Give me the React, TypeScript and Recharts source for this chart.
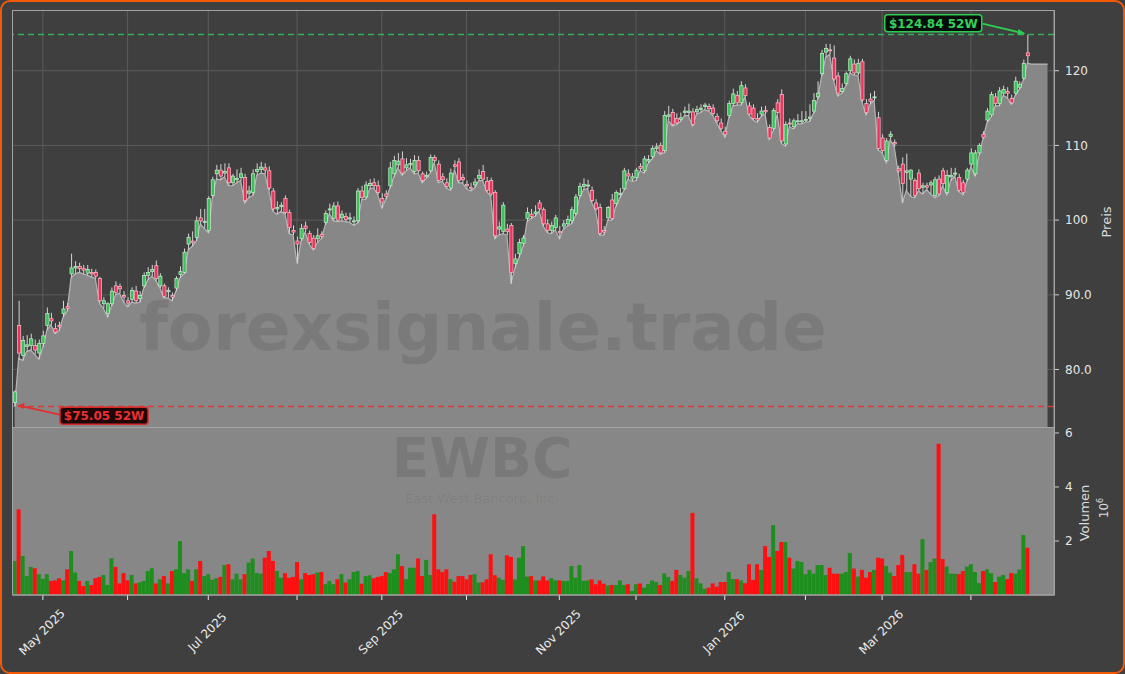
import React from 'react';
import {
  ComposedChart,
  Area,
  Bar,
  Cell,
  XAxis,
  YAxis,
  CartesianGrid,
  ReferenceLine,
  ReferenceDot,
} from 'recharts';

// daily candles (first session 2025-04-22)
const openP = [
  75.6, 85.9, 81.9, 83.1, 83.2, 83.2, 82.2, 83.5, 85.9, 86.8,
  85.5, 85.9, 87.5, 88.4, 92.8, 93.6, 93.8, 93.5, 92.9, 93.0,
  93.0, 92.2, 88.8, 87.5, 88.8, 91.2, 91.1, 89.9, 89.2, 89.4,
  90.5, 89.5, 91.2, 92.6, 93.1, 93.9, 91.2, 91.2, 90.4, 89.9,
  90.9, 92.7, 93.0, 96.8, 97.2, 97.7, 100.3, 99.7, 98.6, 103.3,
  106.2, 106.7, 106.3, 107.0, 105.0, 105.4, 105.7, 105.7, 103.6, 103.7,
  106.5, 106.8, 107.0, 106.6, 103.9, 101.5, 101.8, 102.9, 101.0, 98.6,
  97.2, 97.5, 99.2, 98.2, 97.6, 97.5, 98.1, 99.7, 101.4, 100.2,
  101.9, 100.3, 100.5, 100.2, 99.8, 99.9, 103.9, 103.1, 104.6, 105.0,
  104.6, 102.9, 103.5, 104.6, 106.2, 107.4, 108.2, 107.0, 107.4, 106.5,
  108.0, 106.2, 105.8, 106.6, 108.4, 107.5, 105.8, 105.0, 104.3, 107.4,
  107.8, 105.7, 104.8, 104.4, 104.7, 105.6, 106.5, 105.2, 105.3, 103.7,
  98.8, 98.5, 98.8, 99.3, 94.2, 95.5, 96.9, 100.2, 100.8, 100.9,
  102.3, 101.4, 99.5, 98.6, 99.0, 98.5, 99.2, 99.5, 99.9, 100.9,
  103.3, 104.5, 104.6, 104.0, 102.3, 101.7, 98.6, 100.3, 102.7, 102.2,
  103.4, 104.2, 106.2, 105.5, 105.7, 107.2, 106.6, 107.9, 108.5, 109.6,
  110.0, 109.3, 113.9, 114.4, 113.6, 113.5, 114.4, 114.4, 114.5, 114.5,
  114.8, 115.2, 115.2, 115.0, 113.9, 113.0, 111.9, 114.0, 115.6, 116.7,
  115.7, 117.7, 115.3, 115.0, 113.6, 114.2, 114.7, 112.4, 112.3, 115.7,
  116.8, 110.2, 113.0, 112.5, 113.2, 113.3, 113.4, 113.6, 114.6, 116.5,
  119.6, 122.5, 122.8, 121.7, 119.3, 117.2, 118.3, 120.0, 120.9, 119.7,
  121.2, 115.6, 116.2, 116.4, 113.7, 111.0, 108.0, 111.2, 110.4, 106.9,
  107.5, 106.4, 105.5, 105.3, 106.3, 104.4, 104.6, 104.7, 103.3, 105.5,
  106.6, 103.7, 105.8, 106.2, 105.7, 105.0, 105.5, 107.5, 106.2, 109.0,
  111.5, 113.4, 114.1, 116.5, 115.6, 117.0, 117.2, 116.3, 117.0, 117.8,
  119.0, 122.4,
];

const highP = [
  77.2, 89.2, 84.5, 84.6, 84.8, 84.0, 84.0, 85.2, 88.3, 87.6,
  86.2, 86.4, 89.2, 88.9, 95.5, 94.5, 94.3, 94.0, 94.0, 93.5,
  93.4, 92.4, 89.7, 89.0, 91.0, 91.8, 91.5, 90.5, 89.7, 91.0,
  91.2, 90.5, 93.0, 93.7, 94.0, 94.6, 92.9, 91.5, 91.0, 90.3,
  92.5, 93.8, 96.2, 98.2, 98.5, 100.5, 101.5, 101.5, 103.2, 105.8,
  107.4, 107.5, 107.6, 107.6, 106.2, 106.8, 107.0, 106.2, 104.6, 106.8,
  107.6, 107.8, 107.6, 107.2, 104.3, 102.5, 102.4, 103.3, 101.4, 99.3,
  97.8, 99.5, 99.8, 98.6, 98.0, 98.9, 98.5, 101.3, 102.2, 102.4,
  102.5, 101.3, 101.0, 101.0, 100.5, 104.3, 104.6, 105.2, 105.5, 105.6,
  105.3, 103.6, 104.0, 107.8, 108.6, 109.0, 109.2, 108.3, 108.2, 108.7,
  108.6, 106.5, 106.5, 108.8, 108.7, 108.0, 106.3, 105.6, 106.9, 108.0,
  108.3, 106.2, 105.3, 105.0, 105.6, 106.8, 107.4, 105.8, 105.7, 104.0,
  99.8, 102.4, 99.5, 99.6, 95.5, 97.5, 98.0, 101.7, 101.5, 102.0,
  102.7, 101.7, 100.1, 99.8, 100.7, 99.2, 100.0, 100.6, 101.8, 103.5,
  105.0, 105.6, 105.4, 104.5, 102.8, 102.2, 99.2, 101.9, 103.5, 104.0,
  104.3, 107.0, 106.8, 106.3, 107.0, 107.6, 108.6, 108.7, 110.0, 110.3,
  110.4, 114.6, 115.3, 114.9, 114.3, 114.4, 115.2, 115.6, 115.0, 115.3,
  115.5, 115.7, 115.6, 115.5, 114.3, 113.6, 112.5, 116.0, 117.6, 117.3,
  118.6, 118.2, 115.8, 115.5, 114.3, 115.2, 115.3, 112.8, 115.0, 116.2,
  117.5, 113.2, 113.6, 113.6, 114.2, 114.6, 114.6, 115.5, 117.0, 118.6,
  122.8, 123.6, 123.6, 123.4, 119.8, 118.3, 119.9, 122.0, 121.5, 121.6,
  121.6, 116.2, 117.0, 117.3, 114.5, 111.5, 111.0, 111.9, 110.8, 107.3,
  108.4, 108.9, 106.8, 105.6, 106.8, 105.0, 105.0, 105.3, 105.8, 106.0,
  107.0, 106.7, 107.0, 107.0, 106.2, 105.4, 107.0, 109.6, 109.4, 110.3,
  111.9, 115.0, 117.2, 117.0, 117.8, 118.0, 117.8, 116.8, 119.2, 118.6,
  121.5, 124.84,
];

const lowP = [
  75.05, 81.5, 81.2, 82.4, 82.6, 82.0, 81.4, 83.0, 85.3, 86.0,
  84.8, 85.2, 87.0, 87.8, 92.3, 92.8, 93.0, 92.8, 92.6, 92.4,
  92.2, 88.9, 88.2, 87.0, 88.5, 90.0, 90.2, 89.0, 88.4, 89.0,
  88.9, 89.0, 90.9, 92.0, 92.5, 91.9, 90.9, 89.6, 89.6, 89.2,
  90.5, 92.3, 92.8, 96.0, 96.5, 97.2, 99.5, 98.9, 98.3, 103.0,
  105.5, 105.4, 105.8, 104.6, 104.6, 105.0, 105.3, 102.3, 103.0, 103.3,
  106.0, 106.3, 106.2, 104.0, 101.2, 100.8, 101.2, 100.8, 98.2, 98.0,
  94.2, 97.2, 98.4, 96.8, 96.0, 97.0, 97.5, 99.4, 100.9, 99.9,
  99.8, 99.9, 99.8, 99.7, 99.3, 99.6, 102.7, 102.8, 104.2, 104.3,
  103.4, 101.6, 102.8, 104.3, 105.8, 107.0, 106.0, 106.6, 107.0, 106.2,
  106.3, 105.0, 105.6, 106.3, 107.7, 105.0, 105.2, 104.3, 104.0, 106.8,
  105.0, 105.0, 104.2, 103.9, 104.3, 105.3, 105.3, 103.8, 103.2, 97.5,
  98.0, 98.2, 98.0, 91.5, 93.6, 95.0, 96.5, 99.8, 100.2, 100.5,
  101.2, 99.2, 98.3, 98.2, 98.7, 97.5, 98.8, 99.2, 99.5, 100.6,
  103.0, 104.1, 104.2, 102.4, 101.3, 98.0, 98.0, 100.0, 100.0, 101.8,
  103.0, 104.0, 105.5, 105.2, 105.3, 106.6, 106.3, 107.6, 108.2, 109.3,
  108.8, 109.0, 113.4, 112.6, 112.8, 113.2, 114.0, 114.0, 112.6, 114.2,
  114.4, 114.8, 114.6, 114.0, 113.0, 112.0, 111.1, 113.7, 115.3, 115.4,
  115.4, 116.5, 114.0, 113.4, 113.1, 113.9, 114.2, 110.8, 112.0, 114.2,
  110.3, 109.9, 112.5, 112.2, 112.9, 112.9, 113.1, 113.2, 114.3, 116.2,
  119.3, 121.8, 122.2, 118.6, 116.6, 117.0, 118.0, 119.7, 119.4, 119.4,
  115.8, 114.1, 115.5, 116.0, 109.4, 109.0, 107.7, 110.8, 109.8, 106.3,
  102.3, 104.0, 103.2, 103.0, 103.9, 103.5, 104.1, 103.5, 103.0, 103.3,
  104.6, 103.4, 105.3, 105.9, 103.8, 103.4, 105.2, 107.2, 105.9, 108.7,
  110.9, 113.1, 113.8, 115.3, 115.3, 116.7, 116.4, 115.5, 116.7, 117.5,
  118.8, 121.0,
];

const closeP = [
  77.0, 82.2, 83.9, 83.3, 84.1, 82.6, 83.5, 84.5, 87.5, 86.5,
  85.0, 85.7, 88.1, 88.2, 93.6, 93.8, 93.5, 93.3, 93.4, 92.8,
  92.5, 89.2, 89.2, 88.8, 90.5, 90.3, 90.8, 89.7, 88.9, 90.6,
  89.2, 89.9, 92.6, 93.0, 93.4, 92.2, 92.5, 89.8, 90.6, 89.7,
  92.2, 93.1, 95.7, 97.7, 97.0, 99.9, 99.9, 99.8, 102.9, 105.4,
  106.7, 105.9, 106.5, 105.0, 105.9, 105.6, 106.2, 102.6, 103.9, 106.2,
  106.8, 107.1, 106.7, 104.3, 101.5, 101.7, 102.0, 101.0, 99.0, 98.4,
  96.8, 98.9, 98.9, 97.0, 96.2, 97.9, 97.8, 100.9, 101.5, 101.9,
  100.0, 100.8, 100.1, 100.3, 99.9, 103.9, 103.0, 104.7, 104.9, 104.6,
  103.7, 102.4, 103.2, 107.0, 108.0, 107.9, 106.3, 107.4, 107.6, 108.0,
  106.6, 105.3, 106.0, 108.4, 108.0, 105.3, 105.4, 104.5, 106.3, 107.2,
  105.3, 105.4, 104.6, 104.3, 105.1, 106.0, 105.5, 104.0, 103.5, 97.9,
  99.1, 102.0, 98.5, 93.0, 94.8, 97.0, 97.6, 101.0, 100.5, 101.1,
  101.5, 99.5, 98.6, 99.3, 100.3, 98.3, 99.5, 100.1, 101.4, 103.1,
  104.5, 104.8, 104.7, 102.6, 101.5, 98.2, 98.4, 101.7, 100.2, 103.7,
  103.6, 106.6, 105.9, 105.8, 106.7, 106.9, 108.2, 108.1, 109.6, 109.8,
  109.0, 114.0, 114.1, 112.8, 113.0, 113.7, 114.6, 114.6, 112.8, 114.8,
  115.0, 115.4, 114.9, 114.3, 113.3, 112.3, 111.5, 115.6, 116.9, 115.7,
  118.0, 116.7, 114.2, 113.6, 113.4, 114.6, 114.5, 111.0, 114.7, 114.4,
  110.6, 112.8, 112.9, 113.3, 113.3, 113.3, 113.5, 113.8, 116.0, 117.0,
  122.3, 123.0, 122.7, 118.9, 117.0, 117.6, 119.6, 121.6, 119.7, 121.0,
  116.1, 114.4, 115.9, 116.5, 109.6, 109.3, 110.6, 111.5, 110.2, 106.6,
  104.9, 106.6, 106.7, 103.3, 104.2, 104.6, 104.4, 105.0, 105.4, 103.5,
  104.9, 106.0, 106.0, 106.3, 104.0, 103.7, 106.7, 109.0, 109.0, 110.0,
  111.1, 114.6, 116.8, 115.6, 117.3, 117.5, 117.0, 115.7, 118.6, 118.2,
  121.0, 122.0,
];

// volume in millions
const volume = [
  1.26, 3.17, 1.44, 0.70, 1.04, 0.99, 0.77, 0.60, 0.77, 0.52,
  0.54, 0.62, 0.54, 0.95, 1.63, 0.83, 0.52, 0.33, 0.52, 0.37,
  0.62, 0.67, 0.74, 0.37, 1.36, 1.04, 0.43, 0.81, 0.54, 0.74,
  0.43, 0.47, 0.52, 0.89, 0.99, 0.43, 0.58, 0.70, 0.43, 0.89,
  0.95, 2.0, 0.81, 0.95, 0.52, 0.95, 1.26, 0.70, 0.77, 0.56,
  0.62, 0.67, 1.11, 1.14, 0.58, 0.79, 0.58, 0.77, 1.20, 1.35,
  0.81, 0.79, 1.38, 1.63, 1.26, 0.89, 0.64, 0.81, 0.64, 0.67,
  1.22, 0.58, 0.81, 0.74, 0.77, 0.83, 0.85, 0.40, 0.52, 0.40,
  0.58, 0.77, 0.46, 0.58, 0.85, 0.89, 0.42, 0.70, 0.73, 0.62,
  0.67, 0.70, 0.85, 0.81, 0.95, 1.51, 1.07, 0.59, 1.01, 1.01,
  1.35, 0.70, 1.30, 0.74, 2.99, 0.95, 0.85, 0.95, 0.59, 0.49,
  0.70, 0.70, 0.58, 0.74, 0.77, 0.46, 0.47, 0.58, 1.51, 0.73,
  0.64, 0.56, 1.47, 1.41, 0.58, 1.38, 1.81, 0.68, 0.70, 0.54,
  0.54, 0.69, 0.54, 0.62, 0.54, 0.54, 0.52, 0.52, 1.07, 0.64,
  1.11, 0.52, 0.54, 0.58, 0.40, 0.54, 0.42, 0.35, 0.37, 0.37,
  0.54, 0.37, 0.40, 0.15, 0.40, 0.43, 0.27, 0.40, 0.54, 0.48,
  0.37, 0.80, 0.67, 0.52, 0.93, 0.74, 0.64, 0.89, 3.04, 0.62,
  0.43, 0.23, 0.27, 0.43, 0.31, 0.48, 0.48, 0.85, 0.59, 0.59,
  0.54, 0.44, 1.14, 0.56, 1.14, 0.93, 1.81, 1.41, 2.59, 1.63,
  1.96, 1.96, 1.38, 0.98, 1.26, 1.22, 0.77, 0.93, 0.79, 1.11,
  1.11, 0.74, 1.01, 0.79, 0.79, 0.79, 0.85, 1.56, 0.98, 0.68,
  0.93, 0.64, 0.85, 0.93, 1.38, 1.35, 1.07, 0.83, 0.70, 1.11,
  1.48, 0.85, 0.85, 1.14, 0.79, 2.07, 0.93, 1.22, 1.35, 5.6,
  1.33, 1.05, 0.79, 0.79, 0.77, 0.89, 1.05, 1.14, 0.85, 0.44,
  0.89, 0.95, 0.81, 0.48, 0.68, 0.74, 0.59, 0.81, 0.79, 0.94,
  2.22, 1.75,
];

// grey fill keeps running flat for a few sessions after the last candle
const tailArea = [120.9, 120.9, 120.9, 120.9, 120.9];

const holidays = [
  '2025-05-26', '2025-06-19', '2025-07-04', '2025-09-01', '2025-11-27',
  '2025-12-25', '2026-01-01', '2026-01-19', '2026-02-16', '2026-04-03',
];
const monthNames = ['Jan', 'Feb', 'Mar', 'Apr', 'May', 'Jun', 'Jul', 'Aug', 'Sep', 'Oct', 'Nov', 'Dec'];

const priceTicks = [80, 90, 100, 110, 120];
const priceTickLabels = ['80.0', '90.0', '100', '110', '120'];
const volTicks = [2, 4, 6];
const volTickLabels = ['2', '4', '6'];

const FONT = '"DejaVu Sans", "Liberation Sans", sans-serif';
const X_DOMAIN: [number, number] = [-0.4, 257.6];

function tradingDays(start: string, n: number) {
  const out: Date[] = [];
  const d = new Date(start + 'T00:00:00Z');
  while (out.length < n) {
    const wd = d.getUTCDay();
    const iso = d.toISOString().slice(0, 10);
    if (wd !== 0 && wd !== 6 && !holidays.includes(iso)) out.push(new Date(d.getTime()));
    d.setUTCDate(d.getUTCDate() + 1);
  }
  return out;
}

const N = openP.length;
const dates = tradingDays('2025-04-22', N);

const monthTicks: number[] = [];
const monthLabel: Record<number, string> = {};
dates.forEach((d, i) => {
  if (i === 0) return;
  const m = d.getUTCMonth();
  if (m !== dates[i - 1].getUTCMonth()) {
    monthTicks.push(i);
    if (m % 2 === 0) monthLabel[i] = `${monthNames[m]} ${d.getUTCFullYear()}`;
  }
});

const rows: any[] = openP.map((o, i) => ({
  i,
  open: o,
  high: highP[i],
  low: lowP[i],
  close: closeP[i],
  area: lowP[i],
  vol: volume[i],
}));
tailArea.forEach((v, k) => rows.push({ i: N + k, area: v }));

const maxHigh = Math.max(...highP);
const maxIdx = highP.indexOf(maxHigh);
const minLow = Math.min(...lowP);
const minIdx = lowP.indexOf(minLow);

const Candle = (props: any) => {
  const { x, y, width, height, payload } = props;
  if (!payload || payload.open == null || height == null) return null;
  const { open, close, high, low } = payload;
  const top = Math.min(y, y + height);
  const h = Math.abs(height);
  const ppu = high > low ? h / (high - low) : 0;
  const cx = x + width / 2;
  const yO = top + (high - open) * ppu;
  const yC = top + (high - close) * ppu;
  const up = close >= open;
  const bTop = Math.min(yO, yC);
  const bH = Math.max(1, Math.abs(yO - yC));
  return (
    <g>
      <line x1={cx} x2={cx} y1={top} y2={top + h} stroke="#d4d4d4" strokeWidth={1} />
      <rect
        x={cx - 1.6}
        y={bTop}
        width={3.2}
        height={bH}
        fill={up ? '#3fbf5c' : '#e5365d'}
        stroke={up ? '#c6f0cf' : '#ffbfcc'}
        strokeWidth={0.7}
      />
    </g>
  );
};

const HighNote = (props: any) => {
  const { cx, cy } = props;
  const bx = cx - 142.6;
  const by = cy - 19.8;
  return (
    <g>
      <line x1={cx - 45} y1={cy - 11} x2={cx - 7} y2={cy - 2} stroke="#2ecc52" strokeWidth={1.8} />
      <polygon points={`${cx - 2},${cy - 1} ${cx - 9},${cy - 5.5} ${cx - 10},${cy + 0.5}`} fill="#2ecc52" />
      <rect x={bx} y={by} width={97} height={17} rx={3} fill="#060c07" stroke="#2ecc52" strokeWidth={1.5} />
      <text x={bx + 48.5} y={by + 13} textAnchor="middle" fill="#34d05a" fontSize={12} fontWeight="bold" fontFamily={FONT}>
        {`$${maxHigh.toFixed(2)} 52W`}
      </text>
    </g>
  );
};

const LowNote = (props: any) => {
  const { cx, cy } = props;
  const bx = cx + 45.4;
  const by = cy + 0.7;
  return (
    <g>
      <line x1={cx + 46} y1={cy + 8.5} x2={cx + 8} y2={cy - 0.2} stroke="#e03030" strokeWidth={1.8} />
      <polygon points={`${cx + 3},${cy - 1} ${cx + 10},${cy - 3.6} ${cx + 9},${cy + 2.6}`} fill="#e03030" />
      <rect x={bx} y={by} width={88} height={17} rx={3} fill="#1e0606" stroke="#d42a2a" strokeWidth={1.5} />
      <text x={bx + 44} y={by + 13} textAnchor="middle" fill="#e83232" fontSize={12} fontWeight="bold" fontFamily={FONT}>
        {`$${minLow.toFixed(2)} 52W`}
      </text>
    </g>
  );
};

const MonthTick = (props: any) => {
  const { x, payload } = props;
  const lab = monthLabel[payload.value];
  if (!lab) return null;
  const cy = 632;
  return (
    <text
      x={x - 1}
      y={cy}
      dy="0.35em"
      textAnchor="middle"
      transform={`rotate(-45 ${x - 1} ${cy})`}
      fill="#ececec"
      fontSize={12}
      fontFamily={FONT}
    >
      {lab}
    </text>
  );
};

const axisTick = { fill: '#e6e6e6', fontSize: 12, fontFamily: FONT };

export default function App() {
  return (
    <div
      style={{
        position: 'absolute',
        left: 0,
        top: 0,
        width: 1125,
        height: 674,
        background: '#3f3f3f',
        overflow: 'hidden',
        fontFamily: FONT,
      }}
    >
      <div style={{ position: 'absolute', left: 0, top: 0 }}>
        <ComposedChart width={1125} height={440} data={rows} margin={{ top: 11, right: 11, bottom: 13, left: 13 }}>
          <CartesianGrid
            stroke="#5c5c5c"
            fill="#3f3f3f"
            verticalValues={monthTicks}
            horizontalValues={priceTicks}
          />
          <XAxis type="number" dataKey="i" domain={X_DOMAIN} ticks={monthTicks} hide allowDataOverflow />
          <YAxis
            orientation="right"
            domain={[72.3, 128]}
            ticks={priceTicks}
            width={60}
            allowDataOverflow
            tickFormatter={(v: number) => priceTickLabels[priceTicks.indexOf(v)]}
            tick={axisTick}
            tickSize={5}
            tickMargin={6}
            tickLine={{ stroke: '#cfcfcf' }}
            axisLine={{ stroke: '#9a9a9a' }}
          />
          <Area
            dataKey="area"
            type="linear"
            baseValue="dataMin"
            fill="#878787"
            fillOpacity={1}
            stroke="#b6b6b6"
            strokeWidth={1.2}
            dot={false}
            activeDot={false}
            isAnimationActive={false}
          />
          <ReferenceLine y={maxHigh} stroke="#34b05c" strokeDasharray="6 4" strokeWidth={1.5} />
          <ReferenceLine y={minLow} stroke="#d83a3a" strokeDasharray="6 4" strokeWidth={1.5} />
          <Bar
            dataKey={(d: any) => (d.open == null ? null : [d.low, d.high])}
            barSize={3}
            shape={Candle}
            isAnimationActive={false}
          />
          <ReferenceDot x={maxIdx} y={maxHigh} r={3} shape={HighNote} />
          <ReferenceDot x={minIdx} y={minLow} r={3} shape={LowNote} />
        </ComposedChart>
      </div>

      <div style={{ position: 'absolute', left: 0, top: 0 }}>
        <ComposedChart width={1125} height={674} data={rows} margin={{ top: 427, right: 11, bottom: 0, left: 13 }}>
          <CartesianGrid fill="#878787" horizontal={false} vertical={false} />
          <XAxis
            type="number"
            dataKey="i"
            domain={X_DOMAIN}
            ticks={monthTicks}
            interval={0}
            allowDataOverflow
            height={79}
            tick={<MonthTick />}
            tickSize={5}
            tickLine={{ stroke: '#e6e6e6' }}
            axisLine={{ stroke: '#a6a6a6' }}
          />
          <YAxis
            orientation="right"
            domain={[0, 6.22]}
            ticks={volTicks}
            width={60}
            allowDataOverflow
            tickFormatter={(v: number) => volTickLabels[volTicks.indexOf(v)]}
            tick={axisTick}
            tickSize={5}
            tickMargin={6}
            tickLine={{ stroke: '#cfcfcf' }}
            axisLine={{ stroke: '#9a9a9a' }}
          />
          <Bar dataKey="vol" barSize={4} isAnimationActive={false}>
            {rows.map((r, k) => (
              <Cell key={k} fill={r.close >= r.open ? '#1e8e1e' : '#ff0f0f'} />
            ))}
          </Bar>
        </ComposedChart>
      </div>

      <svg
        width={1125}
        height={674}
        style={{ position: 'absolute', left: 0, top: 0, pointerEvents: 'none' }}
      >
        <text x={483} y={350} textAnchor="middle" fontSize={66} fontWeight="bold" fontFamily={FONT} fill="rgba(0,0,0,0.09)">
          forexsignale.trade
        </text>
        <text x={482} y={477} textAnchor="middle" fontSize={55} fontWeight="bold" fontFamily={FONT} fill="rgba(0,0,0,0.1)">
          EWBC
        </text>
        <text x={482} y={503} textAnchor="middle" fontSize={13} fontFamily={FONT} fill="rgba(0,0,0,0.07)">
          East West Bancorp, Inc.
        </text>
        <rect x={12.5} y={10.5} width={1042} height={417} fill="none" stroke="#a4a4a4" strokeWidth={1} />
        <rect x={12.5} y={427.5} width={1042} height={167.5} fill="none" stroke="#a4a4a4" strokeWidth={1} />
        <text
          x={1106}
          y={222}
          dy="0.35em"
          textAnchor="middle"
          transform="rotate(-90 1106 222)"
          fill="#dcdcdc"
          fontSize={13}
          fontFamily={FONT}
        >
          Preis
        </text>
        <text
          x={1084}
          y={513}
          dy="0.35em"
          textAnchor="middle"
          transform="rotate(-90 1084 513)"
          fill="#dcdcdc"
          fontSize={13}
          fontFamily={FONT}
        >
          Volumen
        </text>
        <text
          x={1104}
          y={508}
          dy="0.35em"
          textAnchor="middle"
          transform="rotate(-90 1104 508)"
          fill="#dcdcdc"
          fontSize={12}
          fontFamily={FONT}
        >
          10<tspan dy="-5" fontSize={8}>6</tspan>
        </text>
      </svg>

      <div
        style={{
          position: 'absolute',
          left: 0,
          top: 0,
          width: 1125,
          height: 674,
          boxSizing: 'border-box',
          border: '2.5px solid #f25a08',
          borderRadius: 10,
          pointerEvents: 'none',
        }}
      />
    </div>
  );
}
